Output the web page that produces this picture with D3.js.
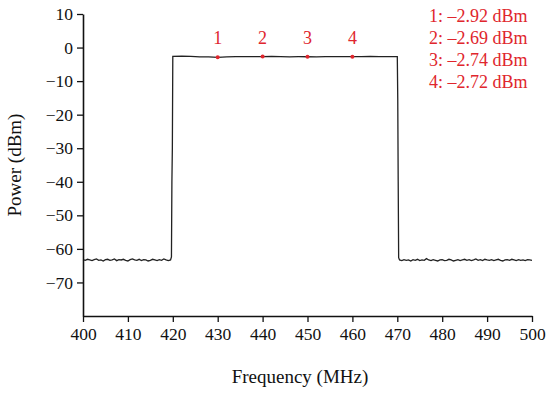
<!DOCTYPE html>
<html>
<head>
<meta charset="utf-8">
<script src="https://cdn.jsdelivr.net/npm/d3@7"></script>
<style>
  html, body { margin: 0; padding: 0; background: #fff; }
  svg { display: block; }
</style>
</head>
<body>
<svg id="chart" width="550" height="397"></svg>
<script>
// ---------- DATA ----------
const xTicks = [400, 410, 420, 430, 440, 450, 460, 470, 480, 490, 500];
const yTicks = [10, 0, -10, -20, -30, -40, -50, -60, -70];

// Noise floor left of the band (400 .. 419.5 MHz, 0.5 MHz steps)
const noiseLeftFreq = d3.range(400, 419.51, 0.5);
const noiseLeftPower = [-63.2,-63.4,-63.1,-63.3,-63.5,-63.2,-63.0,-63.4,-63.3,-63.6,
  -63.2,-63.1,-63.4,-63.3,-63.0,-63.5,-63.2,-63.3,-63.1,-63.4,
  -63.6,-63.2,-63.0,-63.3,-63.4,-63.1,-63.5,-63.2,-63.3,-63.6,
  -63.4,-63.1,-63.3,-63.5,-63.2,-63.4,-63.0,-63.3,-63.5,-63.3];

// Rising edge, passband and falling edge
const bandFreq = [419.7, 419.8, 419.9, 420.0, 422, 424, 426, 428, 430, 432, 434, 436, 438, 440,
  442, 444, 446, 448, 450, 452, 454, 456, 458, 460, 462, 464, 466, 468, 470.0, 470.1, 470.2, 470.3];
const bandPower = [-62.4, -40.0, -30.0, -2.6, -2.55, -2.6, -2.75, -2.8, -2.92, -2.8, -2.72, -2.7, -2.7, -2.69,
  -2.66, -2.7, -2.75, -2.72, -2.74, -2.78, -2.72, -2.68, -2.7, -2.72, -2.7, -2.67, -2.7, -2.68, -2.7, -15.0, -40.0, -62.6];

// Noise floor right of the band (470.5 .. 500 MHz, 0.5 MHz steps)
const noiseRightFreq = d3.range(470.5, 500.01, 0.5);
const noiseRightPower = [-63.3,-63.5,-63.2,-63.4,-63.3,-63.6,-63.2,-63.4,-63.1,-63.5,
  -63.3,-63.4,-62.9,-63.3,-63.5,-63.2,-63.4,-63.6,-63.3,-63.2,
  -63.5,-63.4,-63.1,-63.3,-63.6,-63.4,-63.2,-63.5,-63.3,-63.1,
  -63.4,-63.2,-63.5,-63.3,-63.0,-63.4,-63.2,-63.5,-63.1,-63.3,
  -63.4,-63.2,-63.5,-63.3,-63.1,-63.4,-63.6,-63.3,-63.2,-63.4,
  -63.1,-63.3,-63.5,-63.2,-63.4,-63.3,-63.5,-63.2,-63.3,-63.4];

const markerIds = ["1", "2", "3", "4"];
const markerFreq = [430, 440, 450, 460];
const markerPower = [-2.92, -2.69, -2.74, -2.72];

// ---------- CHART ----------
const svg = d3.select("#chart");
const x = d3.scaleLinear().domain([400, 500]).range([83, 532]);
const y = d3.scaleLinear().domain([-80, 10]).range([316, 14]);
const FONT = "'Liberation Serif', 'Times New Roman', serif";
const RED = "#e0262d";

const minusFmt = d => d < 0 ? "\u2212" + Math.abs(d) : String(d);

// signal
const points = [];
noiseLeftFreq.forEach((f, i) => points.push([f, noiseLeftPower[i]]));
bandFreq.forEach((f, i) => points.push([f, bandPower[i]]));
noiseRightFreq.forEach((f, i) => points.push([f, noiseRightPower[i]]));

svg.append("path")
  .datum(points)
  .attr("fill", "none")
  .attr("stroke", "#222")
  .attr("stroke-width", 1.3)
  .attr("d", d3.line().x(d => x(d[0])).y(d => y(d[1])));

// axes
const xAxis = svg.append("g")
  .attr("transform", "translate(0,316)")
  .call(d3.axisBottom(x).tickValues(xTicks).tickSizeInner(6).tickSizeOuter(0).tickPadding(6).tickFormat(d3.format("d")));
const yAxis = svg.append("g")
  .attr("transform", "translate(83,0)")
  .call(d3.axisLeft(y).tickValues(yTicks).tickSizeInner(6).tickSizeOuter(0).tickPadding(4).tickFormat(minusFmt));

[xAxis, yAxis].forEach(g => {
  g.select(".domain").attr("stroke", "#111").attr("stroke-width", 1.6);
  g.selectAll(".tick line").attr("stroke", "#111").attr("stroke-width", 1.3);
  g.selectAll(".tick text").attr("fill", "#111").style("font-family", FONT).style("font-size", "17.5px");
});

// axis titles
svg.append("text")
  .attr("x", 300).attr("y", 383)
  .attr("text-anchor", "middle")
  .style("font-family", FONT).style("font-size", "19px").attr("fill", "#111")
  .text("Frequency (MHz)");
svg.append("text")
  .attr("transform", "translate(21,165) rotate(-90)")
  .attr("text-anchor", "middle")
  .style("font-family", FONT).style("font-size", "19px").attr("fill", "#111")
  .text("Power (dBm)");

// markers
svg.selectAll("circle.marker")
  .data(markerFreq)
  .enter().append("circle")
  .attr("class", "marker")
  .attr("cx", d => x(d))
  .attr("cy", (d, i) => y(markerPower[i]))
  .attr("r", 2)
  .attr("fill", RED);
svg.selectAll("text.mlabel")
  .data(markerFreq)
  .enter().append("text")
  .attr("class", "mlabel")
  .attr("x", d => x(d))
  .attr("y", (d, i) => y(markerPower[i]) - 13)
  .attr("text-anchor", "middle")
  .style("font-family", FONT).style("font-size", "18px").attr("fill", RED)
  .text((d, i) => markerIds[i]);

// legend
svg.selectAll("text.legend")
  .data(markerIds)
  .enter().append("text")
  .attr("class", "legend")
  .attr("x", 429)
  .attr("y", (d, i) => 21.5 + i * 22.2)
  .style("font-family", FONT).style("font-size", "18px").attr("fill", RED)
  .text((d, i) => d + ": \u2013" + Math.abs(markerPower[i]).toFixed(2) + " dBm");
</script>
</body>
</html>
